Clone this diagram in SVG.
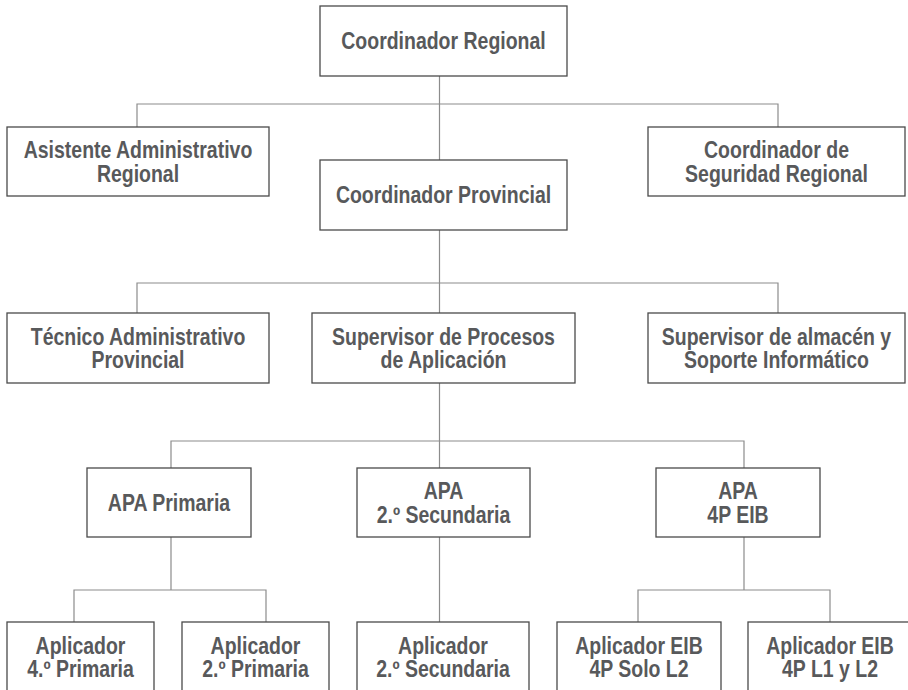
<svg xmlns="http://www.w3.org/2000/svg" width="908" height="690" viewBox="0 0 908 690">
<style>
.box{fill:#fff;stroke:#4a4a4a;stroke-width:1.3}
.lbl{font-family:"Liberation Sans",Arial,sans-serif;font-weight:bold;font-size:23px;fill:#58595b;text-anchor:middle}
.con{fill:none;stroke:#8c8c8c;stroke-width:1.2}
</style>
<rect width="908" height="690" fill="#fff"/>
<g id="connectors">
<path class="con" d="M439.5 76V160M137 127V104H778V127"/>
<path class="con" d="M439.5 230V313M137 313V283H778V313"/>
<path class="con" d="M439.5 383V468M171 468V441H744V468"/>
<path class="con" d="M171 537V590M74 622V590H266V622"/>
<path class="con" d="M439.5 537V622"/>
<path class="con" d="M744 537V590M638 622V590H830V622"/>
</g>
<g id="coord-regional"><rect class="box" x="320" y="6" width="247" height="70"/>
<text class="lbl" transform="translate(443.5,49) scale(0.847,1)">Coordinador Regional</text></g>
<g id="asistente"><rect class="box" x="7" y="127" width="262" height="69"/>
<text class="lbl" transform="translate(138,158) scale(0.847,1)">Asistente Administrativo<tspan x="0" dy="24">Regional</tspan></text></g>
<g id="coord-provincial"><rect class="box" x="320" y="160" width="247" height="70"/>
<text class="lbl" transform="translate(443.5,203) scale(0.847,1)">Coordinador Provincial</text></g>
<g id="coord-seguridad"><rect class="box" x="648" y="127" width="257" height="69"/>
<text class="lbl" transform="translate(776.5,158) scale(0.847,1)">Coordinador de<tspan x="0" dy="24">Seguridad Regional</tspan></text></g>
<g id="tecnico"><rect class="box" x="7" y="313" width="262" height="70"/>
<text class="lbl" transform="translate(138,344.5) scale(0.847,1)">Técnico Administrativo<tspan x="0" dy="24">Provincial</tspan></text></g>
<g id="supervisor-procesos"><rect class="box" x="312" y="313" width="263" height="70"/>
<text class="lbl" transform="translate(443.5,344.5) scale(0.847,1)">Supervisor de Procesos<tspan x="0" dy="24">de Aplicación</tspan></text></g>
<g id="supervisor-almacen"><rect class="box" x="648" y="313" width="257" height="70"/>
<text class="lbl" transform="translate(776.5,344.5) scale(0.847,1)">Supervisor de almacén y<tspan x="0" dy="24">Soporte Informático</tspan></text></g>
<g id="apa-primaria"><rect class="box" x="87" y="468" width="164" height="69"/>
<text class="lbl" transform="translate(169,510.5) scale(0.847,1)">APA Primaria</text></g>
<g id="apa-secundaria"><rect class="box" x="357" y="468" width="173" height="69"/>
<text class="lbl" transform="translate(443.5,499) scale(0.847,1)">APA<tspan x="0" dy="24">2.º Secundaria</tspan></text></g>
<g id="apa-eib"><rect class="box" x="656" y="468" width="164" height="69"/>
<text class="lbl" transform="translate(738,499) scale(0.847,1)">APA<tspan x="0" dy="24">4P EIB</tspan></text></g>
<g id="aplicador-4-primaria"><rect class="box" x="7" y="622" width="147" height="72"/>
<text class="lbl" transform="translate(80.5,653.5) scale(0.847,1)">Aplicador<tspan x="0" dy="24">4.º Primaria</tspan></text></g>
<g id="aplicador-2-primaria"><rect class="box" x="182" y="622" width="147" height="72"/>
<text class="lbl" transform="translate(255.5,653.5) scale(0.847,1)">Aplicador<tspan x="0" dy="24">2.º Primaria</tspan></text></g>
<g id="aplicador-2-secundaria"><rect class="box" x="357" y="622" width="172" height="72"/>
<text class="lbl" transform="translate(443,653.5) scale(0.847,1)">Aplicador<tspan x="0" dy="24">2.º Secundaria</tspan></text></g>
<g id="aplicador-eib-solo-l2"><rect class="box" x="557" y="622" width="164" height="72"/>
<text class="lbl" transform="translate(639,653.5) scale(0.847,1)">Aplicador EIB<tspan x="0" dy="24">4P Solo L2</tspan></text></g>
<g id="aplicador-eib-l1-l2"><rect class="box" x="748" y="622" width="164" height="72"/>
<text class="lbl" transform="translate(830,653.5) scale(0.847,1)">Aplicador EIB<tspan x="0" dy="24">4P L1 y L2</tspan></text></g>
</svg>
